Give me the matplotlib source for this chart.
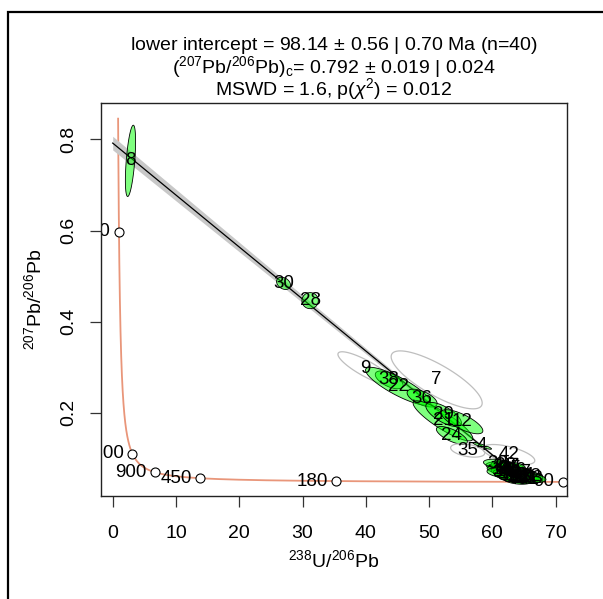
import matplotlib.pyplot as plt
import numpy as np
from matplotlib.patches import Rectangle

plt.rcParams['font.family'] = ['Liberation Sans', 'DejaVu Sans']
plt.rcParams['mathtext.fontset'] = 'custom'
plt.rcParams['mathtext.rm'] = 'Liberation Sans'
plt.rcParams['mathtext.it'] = 'Liberation Sans:italic'

# decay constants (1/Ma) and U ratio
l238 = 1.55125e-4
l235 = 9.8485e-4
U85 = 137.818

# aliquot ellipses: label, 238U/206Pb, s, 207Pb/206Pb, s, rho
labels = [8, 30, 28, 9, 7, 38, 22, 36, 21, 29, 12, 24, 35, 4, 42,
          1, 2, 3, 5, 6, 10, 11, 13, 14, 15, 16, 17, 18, 19, 20,
          23, 25, 26, 27, 31, 32, 33, 34, 37, 39, 40, 41, 43, 44]
ux = [2.81, 27.0, 31.2, 40.0, 51.2, 43.7, 45.1, 48.9, 52.2, 52.3, 55.2, 53.6, 56.1, 58.4, 62.6,
      61.2, 61.8, 62.3, 62.8, 63.4, 64.0, 64.6, 65.2, 61.5, 62.0, 62.6, 63.1, 63.7, 64.3, 65.0,
      62.0, 62.9, 63.6, 64.4, 65.3, 66.0, 60.8, 61.6, 62.4, 63.2, 64.0, 65.8, 66.4, 63.0]
sux = [0.33, 0.45, 0.53, 1.8, 2.94, 0.9, 2.1, 0.97, 1.93, 1.15, 1.35, 1.0, 1.1, 0.6, 1.68,
       0.9, 1.0, 0.85, 0.95, 1.0, 0.9, 0.8, 0.85, 0.95, 0.9, 1.0, 0.85, 0.9, 0.95, 0.8,
       0.9, 1.0, 0.85, 0.9, 0.95, 0.8, 0.9, 1.0, 0.85, 0.9, 0.95, 0.8, 0.85, 0.9]
py = [0.753, 0.484, 0.446, 0.297, 0.272, 0.272, 0.258, 0.232, 0.182, 0.196, 0.180, 0.150, 0.117, 0.127, 0.108,
      0.082, 0.078, 0.074, 0.071, 0.066, 0.062, 0.058, 0.055, 0.075, 0.070, 0.066, 0.061, 0.058, 0.055, 0.058,
      0.084, 0.078, 0.073, 0.068, 0.063, 0.060, 0.088, 0.068, 0.062, 0.057, 0.053, 0.054, 0.056, 0.082]
spy = [0.032, 0.0055, 0.0072, 0.015, 0.026, 0.008, 0.017, 0.008, 0.018, 0.0108, 0.0108, 0.008, 0.006, 0.003, 0.009,
       0.0040, 0.0044, 0.0038, 0.0042, 0.0044, 0.0040, 0.0038, 0.0039, 0.0042, 0.0040, 0.0044, 0.0039, 0.0040, 0.0042, 0.0038,
       0.0040, 0.0044, 0.0039, 0.0040, 0.0042, 0.0038, 0.0040, 0.0044, 0.0039, 0.0040, 0.0042, 0.0038, 0.0039, 0.0040]
rho = [0.55, -0.3, 0.0, -0.85, -0.8, -0.6, -0.85, -0.6, -0.88, -0.7, -0.75, -0.7, -0.4, -0.9, -0.6] + [-0.3] * 29
omitted = [9, 7, 35, 42]

# discordia fit
y0_common = 0.792
t_lower = 98.14
band_left, band_right = 0.015, 0.003

# concordia age markers (Ma)
tick_ages = [90, 180, 450, 900, 1800, 4500]


def tw(t):
    x = 1 / (np.exp(l238 * t) - 1)
    y = (np.exp(l235 * t) - 1) / (np.exp(l238 * t) - 1) / U85
    return x, y


def ellipse_xy(x, sx, y, sy, r, n=80):
    cov = np.array([[sx**2, r * sx * sy], [r * sx * sy, sy**2]])
    w, v = np.linalg.eigh(cov)
    a = np.linspace(0, 2 * np.pi, n)
    pts = v @ (np.sqrt(w)[:, None] * np.vstack([np.cos(a), np.sin(a)])) * 2.4477
    return x + pts[0], y + pts[1]


fig = plt.figure(figsize=(6.03, 5.99), dpi=100)
ax = fig.add_axes([0.1675, 0.172, 0.7728, 0.656])

# concordia
t = np.geomspace(80, 5000, 600)
cx, cy = tw(t)
ax.plot(cx, cy, color='#E9967A', lw=1.3, zorder=1)

# discordia + envelope
x0, yl = tw(t_lower)
lx = np.linspace(0, x0, 200)
ly = y0_common + (yl - y0_common) * lx / x0
f = lx / x0
err = np.sqrt((band_left * (1 - f))**2 + (band_right * f)**2)
ax.fill_between(lx, ly - err, ly + err, color='#C8C8C8', lw=0, zorder=1.5)
ax.plot(lx, ly, color='black', lw=0.9, zorder=2)

# age markers
mx, my = tw(np.array(tick_ages, dtype=float))
ax.plot(mx, my, 'o', ms=6.5, mfc='white', mec='black', mew=0.8, zorder=2.5)
for age, a, b in zip(tick_ages, mx, my):
    ax.annotate(str(age), (a, b), xytext=(-6, 0), textcoords='offset points',
                ha='right', va='center', fontsize=13.5, clip_on=True, zorder=2.4)

# ellipses
for lab, a, sa, b, sb, r in zip(labels, ux, sux, py, spy, rho):
    ex, ey = ellipse_xy(a, sa, b, sb, r)
    if lab in omitted:
        ax.fill(ex, ey, facecolor='none', edgecolor='#BEBEBE', lw=0.9, zorder=3)
    else:
        ax.fill(ex, ey, facecolor=(0, 1, 0, 0.5), edgecolor='black', lw=0.6, zorder=3)
for lab, a, b in zip(labels, ux, py):
    ax.text(a, b, str(lab), ha='center', va='center', fontsize=13.5, zorder=4, clip_on=True)

ax.set_xlim(-1.85, 71.8)
ax.set_ylim(0.017, 0.880)
ax.set_xticks(np.arange(0, 71, 10))
ax.set_yticks([0.2, 0.4, 0.6, 0.8])
ax.set_yticklabels(['0.2', '0.4', '0.6', '0.8'], rotation=90, va='center')
ax.tick_params(length=8, width=0.9, labelsize=14, color='#333333')
ax.tick_params(axis='x', pad=13)
ax.tick_params(axis='y', pad=9)
for s in ax.spines.values():
    s.set_linewidth(1.0)
    s.set_color('#222222')

ax.set_xlabel(r'$^{238}$U/$^{206}$Pb', fontsize=14, labelpad=5)
ax.set_ylabel(r'$^{207}$Pb/$^{206}$Pb', fontsize=14, labelpad=11)

xc = (0.1675 + 0.1675 + 0.7728) / 2
fig.text(xc, 1 - 45 / 599, r'lower intercept = 98.14$\,\pm\,$0.56 | 0.70 Ma (n=40)',
         ha='center', va='center', fontsize=14)
fig.text(xc, 1 - 67 / 599, r'($^{207}$Pb/$^{206}$Pb)$_{\mathrm{c}}$= 0.792$\,\pm\,$0.019 | 0.024',
         ha='center', va='center', fontsize=14)
fig.text(xc, 1 - 89 / 599, r'MSWD = 1.6, p($\chi^2$) = 0.012',
         ha='center', va='center', fontsize=14)

fig.add_artist(Rectangle((8 / 603, -0.05), 1.2, 1 - 12 / 599 + 0.05,
                         transform=fig.transFigure, fill=False, lw=1.6, ec='black'))

fig.savefig('out.png', dpi=100)
